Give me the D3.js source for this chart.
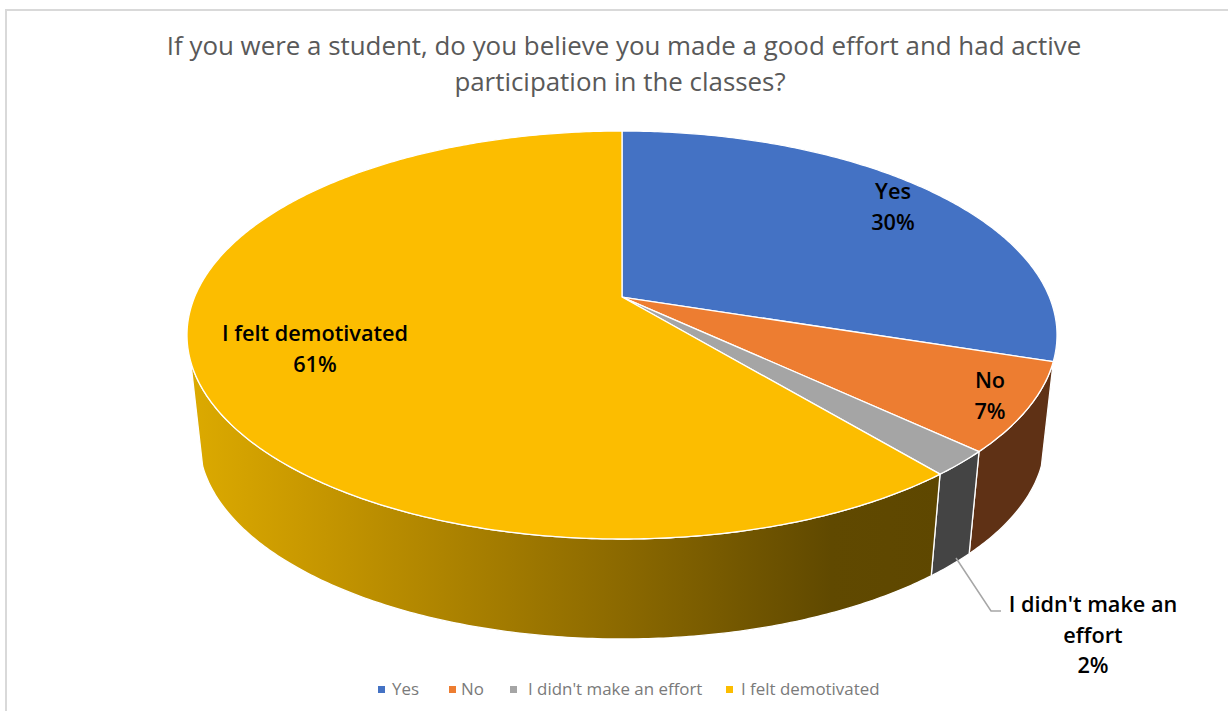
<!DOCTYPE html>
<html>
<head>
<meta charset="utf-8">
<style>
  html, body { margin: 0; padding: 0; background: #fff; overflow: hidden; }
  text { font-family: "Open Sans", "Noto Sans", sans-serif; }
</style>
<script src="https://cdn.jsdelivr.net/npm/d3@7"></script>
</head>
<body>
<svg id="chart" width="1228" height="711"></svg>
<script>
// Survey answers, in the order they run clockwise from twelve o'clock
const categories = ["Yes", "No", "I didn't make an effort", "I felt demotivated"];
const shares = [30, 7, 2, 61];
const topColors = ["#4472c4", "#ed7d31", "#a5a5a5", "#fcbd00"];
const wallColors = ["#2f5597", "#5f3115", "#444444", "url(#wallGold)"];
const titleLines = [
  "If you were a student, do you believe you made a good effort and had active",
  "participation in the classes?"
];

const W = 1228, H = 711;
const svg = d3.select("#chart");

// Tilted disc: the top rim and bottom rim are ellipses, and perspective moves
// the visual centre of the disc up by `tilt`
const cx = 622;
const topRim = { cy: 335, rx: 435, ry: 204 };
const baseRim = { cy: 440, rx: 423, ry: 199 };
const tilt = -0.186;

function rimPoint(rim, angle) {
  const u = Math.sin(angle), v = -Math.cos(angle);
  const d = 1 + tilt * v;
  const px = u * Math.sqrt(1 - tilt * tilt) / d;
  const py = (v + tilt) / d;
  return [cx + rim.rx * px, rim.cy + rim.ry * py];
}
const hub = [cx, topRim.cy + topRim.ry * tilt];

const line = d3.line();
const arcSamples = (a, b) => {
  const n = Math.max(2, Math.ceil(Math.abs(b - a) / 0.01));
  return d3.range(n + 1).map(i => a + (b - a) * i / n);
};

const slices = d3.pie().sort(null).value(d => d)(shares);

// The side wall only shows between the two silhouette angles
const wallFrom = 108 * Math.PI / 180, wallTo = 252 * Math.PI / 180;

const defs = svg.append("defs");
const grad = defs.append("linearGradient")
  .attr("id", "wallGold")
  .attr("gradientUnits", "userSpaceOnUse")
  .attr("x1", 190).attr("x2", 945).attr("y1", 0).attr("y2", 0);
[[0, "#dcaa00"], [0.15, "#c99900"], [0.58, "#8a6800"], [0.85, "#604900"], [1, "#5e4700"]]
  .forEach(([o, c]) => grad.append("stop").attr("offset", o).attr("stop-color", c));

// Chart frame, open at the right and bottom edges of the page
svg.append("path")
  .attr("d", line([[6, H], [6, 10], [W, 10]]))
  .attr("fill", "none").attr("stroke", "#d9d9d9").attr("stroke-width", 2);

// Title
const titleX = [624, 620];
svg.append("g").selectAll("text").data(titleLines).join("text")
  .attr("x", (d, i) => titleX[i]).attr("y", (d, i) => 55 + i * 36)
  .attr("text-anchor", "middle")
  .attr("font-size", 25.9)
  .attr("fill", "#595959")
  .text(d => d);

// Side walls
svg.append("g").selectAll("path")
  .data(slices.filter(s => s.endAngle > wallFrom && s.startAngle < wallTo))
  .join("path")
  .attr("d", s => {
    const a = Math.max(s.startAngle, wallFrom), b = Math.min(s.endAngle, wallTo);
    const angles = arcSamples(a, b);
    const pts = angles.map(t => rimPoint(topRim, t))
      .concat(angles.slice().reverse().map(t => rimPoint(baseRim, t)));
    return line(pts) + "Z";
  })
  .attr("fill", s => wallColors[s.index])
  .attr("stroke", "#fff").attr("stroke-width", 1.3).attr("stroke-linejoin", "round");

// Top faces
svg.append("g").selectAll("path").data(slices).join("path")
  .attr("d", s => line([hub].concat(arcSamples(s.startAngle, s.endAngle).map(t => rimPoint(topRim, t)))) + "Z")
  .attr("fill", s => topColors[s.index])
  .attr("stroke", "#fff").attr("stroke-width", 1.3).attr("stroke-linejoin", "round");

// Leader line for the one label that sits outside the disc
svg.append("path")
  .attr("d", line([[956, 558], [991, 611], [1001, 611]]))
  .attr("fill", "none").attr("stroke", "#a6a6a6").attr("stroke-width", 1.5);

// Value labels: each block is centred on its anchor point
const labelLayout = [
  { x: 893, y: 199, lines: [categories[0]] },
  { x: 990, y: 388, lines: [categories[1]] },
  { x: 1093, y: 612, lines: ["I didn't make an", "effort"] },
  { x: 315, y: 341, lines: [categories[3]] }
];
const pct = d3.format(".0f");
const labels = svg.append("g").selectAll("text").data(labelLayout).join("text")
  .attr("text-anchor", "middle")
  .attr("font-size", 21.7).attr("font-weight", 600).attr("fill", "#000");
labels.selectAll("tspan")
  .data((d, i) => d.lines.concat(pct(shares[i]) + "%").map(t => ({ t, x: d.x, y: d.y })))
  .join("tspan")
  .attr("x", d => d.x)
  .attr("y", (d, i) => d.y + i * 30.5)
  .text(d => d.t);

// Legend along the bottom
const legendSwatchX = [378, 449, 510, 726];
const legendTextX = [392, 461, 528, 741];
const legend = svg.append("g").selectAll("g").data(categories).join("g");
legend.append("rect")
  .attr("x", (d, i) => legendSwatchX[i]).attr("y", 686)
  .attr("width", 7).attr("height", 7)
  .attr("fill", (d, i) => topColors[i]);
legend.append("text")
  .attr("x", (d, i) => legendTextX[i]).attr("y", 695)
  .attr("font-size", 16.9).attr("fill", "#7a7a7a")
  .text(d => d);
</script>
</body>
</html>
